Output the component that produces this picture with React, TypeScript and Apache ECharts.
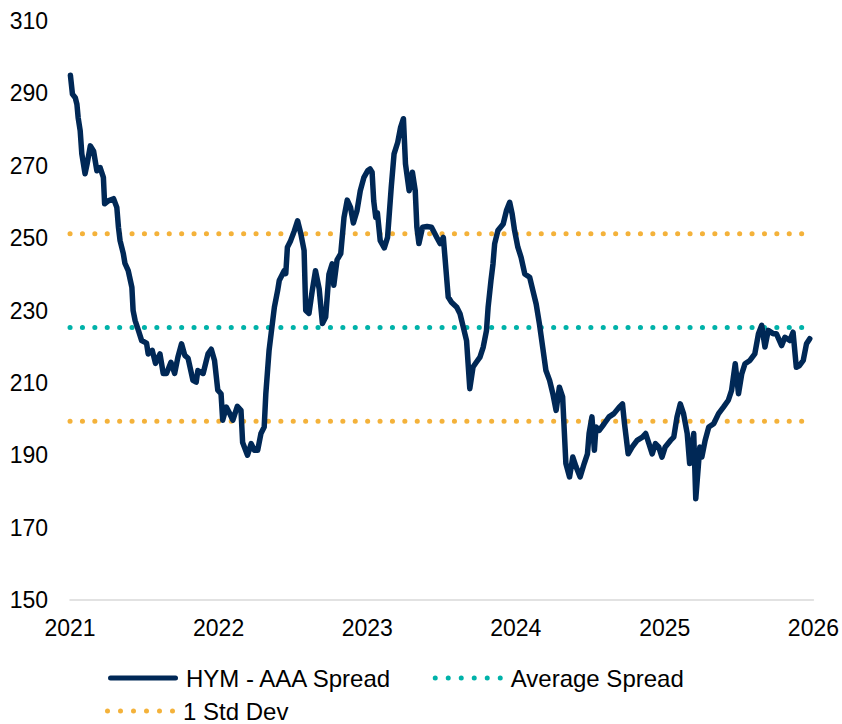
import { useEffect, useRef } from 'react';
import * as echarts from 'echarts';

// HYM - AAA spread (bp)
const spreadDates = [
  '2021-01-02', '2021-01-07', '2021-01-14', '2021-01-18', '2021-01-21', '2021-01-26', '2021-01-30', '2021-02-07',
  '2021-02-12', '2021-02-20', '2021-02-28', '2021-03-08', '2021-03-16', '2021-03-24', '2021-03-27', '2021-04-05',
  '2021-04-18', '2021-04-26', '2021-04-30', '2021-05-04', '2021-05-12', '2021-05-16', '2021-05-24', '2021-06-02',
  '2021-06-05', '2021-06-10', '2021-06-18', '2021-06-26', '2021-07-08', '2021-07-12', '2021-07-22', '2021-07-30',
  '2021-08-10', '2021-08-18', '2021-08-26', '2021-09-06', '2021-09-15', '2021-09-23', '2021-10-02', '2021-10-10',
  '2021-10-18', '2021-10-30', '2021-11-07', '2021-11-11', '2021-11-24', '2021-12-06', '2021-12-14', '2021-12-22',
  '2021-12-30',
  '2022-01-07', '2022-01-11', '2022-01-20', '2022-01-28', '2022-02-05', '2022-02-16', '2022-02-25', '2022-03-01',
  '2022-03-13', '2022-03-22', '2022-03-30', '2022-04-07', '2022-04-15', '2022-04-23', '2022-04-27', '2022-05-05',
  '2022-05-10', '2022-05-18', '2022-05-26', '2022-05-30', '2022-06-11', '2022-06-15', '2022-06-19', '2022-06-27',
  '2022-07-06', '2022-07-14', '2022-07-22', '2022-07-30', '2022-08-03', '2022-08-11', '2022-08-19', '2022-08-27',
  '2022-09-05', '2022-09-13', '2022-09-21', '2022-09-29', '2022-10-07', '2022-10-11', '2022-10-19', '2022-10-28',
  '2022-11-05', '2022-11-13', '2022-11-21', '2022-11-28', '2022-12-07', '2022-12-15', '2022-12-24',
  '2023-01-02', '2023-01-08', '2023-01-13', '2023-01-17', '2023-01-22', '2023-01-26', '2023-02-02', '2023-02-12',
  '2023-02-20', '2023-03-01', '2023-03-08', '2023-03-17', '2023-03-24', '2023-03-31', '2023-04-05', '2023-04-14',
  '2023-04-22', '2023-04-29', '2023-05-03', '2023-05-08', '2023-05-17', '2023-05-28', '2023-06-08', '2023-06-21',
  '2023-06-29', '2023-07-07', '2023-07-11', '2023-07-19', '2023-07-27', '2023-08-09', '2023-08-17', '2023-08-25',
  '2023-09-02', '2023-09-10', '2023-09-18', '2023-09-26', '2023-10-05', '2023-10-13', '2023-10-21', '2023-10-25',
  '2023-11-01', '2023-11-06', '2023-11-10', '2023-11-18', '2023-12-01', '2023-12-09', '2023-12-17', '2023-12-23',
  '2023-12-29',
  '2024-01-06', '2024-01-14', '2024-01-23', '2024-02-04', '2024-02-12', '2024-02-20', '2024-02-28', '2024-03-07',
  '2024-03-15', '2024-03-24', '2024-04-01', '2024-04-09', '2024-04-17', '2024-04-25', '2024-05-03', '2024-05-12',
  '2024-05-20', '2024-05-28', '2024-06-07', '2024-06-17', '2024-06-25', '2024-06-29', '2024-07-06', '2024-07-12',
  '2024-07-16', '2024-07-24', '2024-08-05', '2024-08-17', '2024-08-29', '2024-09-11', '2024-09-19', '2024-09-24',
  '2024-10-03', '2024-10-13', '2024-10-25', '2024-11-07', '2024-11-15', '2024-11-23', '2024-12-01', '2024-12-09',
  '2024-12-17', '2024-12-25',
  '2025-01-02', '2025-01-15', '2025-01-23', '2025-01-31', '2025-02-08', '2025-02-16', '2025-02-25', '2025-03-03',
  '2025-03-13', '2025-03-18', '2025-03-28', '2025-04-02', '2025-04-10', '2025-04-19', '2025-05-01', '2025-05-13',
  '2025-05-25', '2025-06-06', '2025-06-14', '2025-06-23', '2025-07-01', '2025-07-09', '2025-07-17', '2025-07-29',
  '2025-08-10', '2025-08-19', '2025-08-27', '2025-09-04', '2025-09-12', '2025-09-24', '2025-10-02', '2025-10-15',
  '2025-10-23', '2025-11-04', '2025-11-12', '2025-11-20', '2025-11-28', '2025-12-07', '2025-12-15', '2025-12-23',
];

const spreadValues = [
  295, 289.8, 288.8, 287, 283.3, 279.7, 273.3, 267.8,
  270.5, 275.5, 274, 268.6, 269.5, 266.8, 259.5, 260.3,
  260.9, 258.5, 253, 249.3, 245.7, 243, 241, 236.4,
  230, 227.2, 224.5, 221.7, 221, 218, 219, 215.4,
  218, 212.6, 212.6, 215.7, 212.6, 217.1, 220.8, 217.6,
  216.8, 210.7, 210.2, 213.4, 212.6, 218, 219.3, 216.2,
  208,
  207, 199.7, 203.3, 201.6, 199.7, 203.5, 202.4, 193.5,
  190, 193.2, 191.4, 191.4, 196, 197.8, 207, 219,
  223.6, 230.9, 235.5, 238.3, 241, 240.2, 247.5, 249.3,
  252, 254.8, 251.2, 246.6, 230, 229.2, 235.5, 241,
  236, 226.4, 228.2, 240, 242.9, 237, 244, 245.7,
  255.7, 260.5, 258.5, 254.2, 257.6, 263.1, 266.8,
  268.6, 269.1, 268.2, 260.3, 255.7, 257, 249.3, 247.3,
  250.2, 264, 273.3, 276.5, 280.6, 283, 270.5, 263.1,
  268.2, 263.1, 253, 248.5, 253, 253.2, 253, 250.2,
  248.5, 250.2, 244.7, 233.7, 232.3, 230.9, 229.1, 225.4,
  221.7, 208.4, 214.4, 215.7, 217.1, 219.9, 224.5, 230.9,
  238.3, 242.9, 248.4, 252.1, 253.9, 257.6, 259.9, 256.7,
  252.1,
  247.5, 244.7, 240.1, 239.2, 235.5, 231.8, 226.3, 219.9,
  213.4, 210.7, 207, 202.4, 208.8, 206.1, 187.7, 184,
  189.5, 186.8, 184, 187.7, 190.4, 196, 200.6, 191.4,
  197.8, 196.9, 198.7, 200.6, 201.5, 203.3, 204.2, 198.7,
  190.4, 192.3, 194.1, 195, 196, 193.2, 190.4, 193.2,
  192.3, 189.5,
  192.3, 194.1, 195, 200.6, 204.2, 201.5, 196, 187.7,
  196, 178, 192.3, 189.5, 194.1, 197.8, 198.7, 201.5,
  203.3, 205.2, 207.9, 215.3, 207, 212.5, 215.3, 216.2,
  218, 223.6, 225.9, 219.9, 224.5, 223.6, 223.6, 220.3,
  222.6, 221.7, 224, 214.3, 214.8, 216.2, 220.8, 222.2,
];

const AVERAGE_SPREAD = 225.3;
const STD_DEV = 25.9;

const yearLabels = ['2021', '2022', '2023', '2024', '2025', '2026'];
const Y_MIN = 150;
const Y_MAX = 310;
const Y_STEP = 20;

const NAVY = '#002856';
const TEAL = '#00B2A9';
const GOLD = '#F4B23A';
const FONT = 'Arial, "Liberation Sans", Helvetica, sans-serif';

// legend icons: a rounded bar and a row of six dots (70 x 5)
const BAR_ICON = 'path://M2.5 0H67.5A2.5 2.5 0 0 1 67.5 5H2.5A2.5 2.5 0 0 1 2.5 0Z';
const DOT_ICON =
  'path://' +
  [2.5, 15.5, 28.5, 41.5, 54.5, 67.5]
    .map((c) => `M${c - 2.5} 2.5A2.5 2.5 0 1 0 ${c + 2.5} 2.5A2.5 2.5 0 1 0 ${c - 2.5} 2.5Z`)
    .join('');

const toTime = (s: string) => {
  const [y, m, d] = s.split('-').map(Number);
  return new Date(y, (m || 1) - 1, d || 1).getTime();
};

export default function App() {
  const ref = useRef<HTMLDivElement>(null);

  useEffect(() => {
    if (!ref.current) return;
    const chart = echarts.init(ref.current, null, { renderer: 'svg' });

    const yearTimes = yearLabels.map((y) => toTime(y));
    const start = yearTimes[0];
    const end = yearTimes[yearTimes.length - 1];
    const dotted = [0.1, 12.3];

    const flat = (v: number) => [
      [start, v],
      [end, v],
    ];

    const dottedSeries = (name: string, value: number, color: string) => ({
      name,
      type: 'line',
      data: flat(value),
      symbol: 'none',
      silent: true,
      lineStyle: { color, width: 5, type: dotted, cap: 'round' },
      itemStyle: { color, borderWidth: 0 },
      z: 1,
    });

    const legendText = {
      fontSize: 24,
      lineHeight: 24,
      color: '#000000',
      fontFamily: FONT,
      padding: [0, 0, 0, 3],
    };

    chart.setOption({
      animation: false,
      backgroundColor: '#ffffff',
      grid: { left: 70, right: 25, top: 21, bottom: 124 },
      xAxis: {
        type: 'value',
        min: start,
        max: end,
        axisLine: { show: true, lineStyle: { color: '#d9d9d9', width: 1.5 } },
        axisTick: { show: false },
        splitLine: { show: false },
        axisLabel: {
          customValues: yearTimes,
          formatter: (v: number) => String(new Date(v).getFullYear()),
          fontSize: 23,
          color: '#000000',
          fontFamily: FONT,
          margin: 16,
          hideOverlap: false,
        },
      },
      yAxis: {
        type: 'value',
        min: Y_MIN,
        max: Y_MAX,
        interval: Y_STEP,
        axisLine: { show: false },
        axisTick: { show: false },
        splitLine: { show: false },
        axisLabel: {
          fontSize: 23,
          color: '#000000',
          fontFamily: FONT,
          margin: 22,
        },
      },
      legend: [
        {
          data: [
            { name: 'HYM - AAA Spread', icon: BAR_ICON },
            { name: 'Average Spread', icon: DOT_ICON },
          ],
          left: 108,
          top: 666,
          padding: 0,
          itemWidth: 70,
          itemHeight: 5,
          itemGap: 40,
          selectedMode: false,
          textStyle: legendText,
        },
        {
          data: [{ name: '1 Std Dev', icon: DOT_ICON }],
          left: 105,
          top: 699,
          padding: 0,
          itemWidth: 70,
          itemHeight: 5,
          selectedMode: false,
          textStyle: legendText,
        },
      ],
      series: [
        dottedSeries('1 Std Dev', AVERAGE_SPREAD + STD_DEV, GOLD),
        dottedSeries('1 Std Dev', AVERAGE_SPREAD - STD_DEV, GOLD),
        dottedSeries('Average Spread', AVERAGE_SPREAD, TEAL),
        {
          name: 'HYM - AAA Spread',
          type: 'line',
          data: spreadDates.map((d, i) => [toTime(d), spreadValues[i]]),
          symbol: 'none',
          lineStyle: { color: NAVY, width: 5.5, cap: 'round', join: 'round' },
          itemStyle: { color: NAVY, borderWidth: 0 },
          z: 3,
        },
      ],
    });

    return () => chart.dispose();
  }, []);

  return (
    <div
      ref={ref}
      style={{ position: 'fixed', left: 0, top: 0, width: 842, height: 724, background: '#fff' }}
    />
  );
}
